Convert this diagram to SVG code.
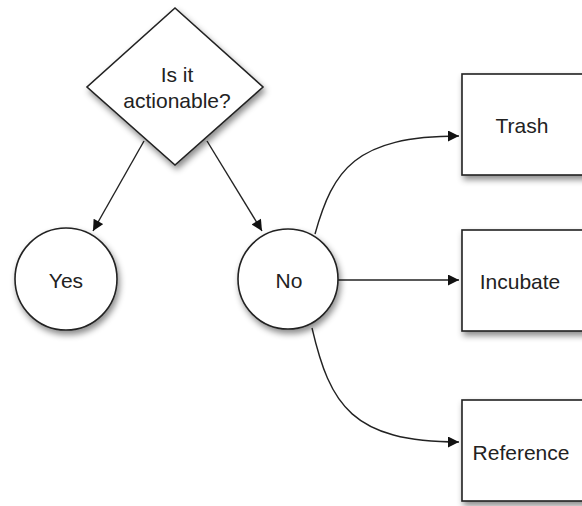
<svg xmlns="http://www.w3.org/2000/svg" width="582" height="506" viewBox="0 0 582 506">
<defs>
<filter id="sh" x="-20%" y="-20%" width="150%" height="150%">
<feDropShadow dx="2" dy="4" stdDeviation="3" flood-color="#000" flood-opacity="0.45"/>
</filter>
<marker id="ah" viewBox="0 0 10 10" refX="10" refY="5" markerWidth="12" markerHeight="11" markerUnits="userSpaceOnUse" orient="auto">
<path d="M0,0 L10,5 L0,10 z" fill="#111"/>
</marker>
<style>
.shape{fill:#fff;stroke:#222;stroke-width:1.6;filter:url(#sh)}
.lbl{font-family:"Liberation Sans",Arial,sans-serif;font-size:21px;fill:#222;text-anchor:middle}
.edge{fill:none;stroke:#222;stroke-width:1.4;marker-end:url(#ah)}
</style>
</defs>
<rect width="582" height="506" fill="#fff"/>
<g id="connectors">
<path class="edge" d="M144,141 L93,231"/>
<path class="edge" d="M207,141 L262,231"/>
<path class="edge" d="M315,234 C333,170 355,136 459,136"/>
<path class="edge" d="M338,280 L459,280"/>
<path class="edge" d="M312,328 C330,405 352,442 459,442"/>
</g>
<g id="node-actionable">
<polygon class="shape" points="175,8 263,87 175,165 87,87"/>
<text class="lbl" x="177" y="82">Is it</text>
<text class="lbl" x="177" y="108">actionable?</text>
</g>
<g id="node-yes">
<circle class="shape" cx="66" cy="279" r="51"/>
<text class="lbl" x="66" y="288">Yes</text>
</g>
<g id="node-no">
<circle class="shape" cx="288" cy="279" r="50"/>
<text class="lbl" x="289" y="288">No</text>
</g>
<g id="node-trash">
<rect class="shape" x="462" y="74" width="130" height="101"/>
<text class="lbl" x="522" y="133">Trash</text>
</g>
<g id="node-incubate">
<rect class="shape" x="462" y="230" width="130" height="101"/>
<text class="lbl" x="520" y="289">Incubate</text>
</g>
<g id="node-reference">
<rect class="shape" x="462" y="400" width="130" height="101"/>
<text class="lbl" x="521" y="460">Reference</text>
</g>
</svg>
